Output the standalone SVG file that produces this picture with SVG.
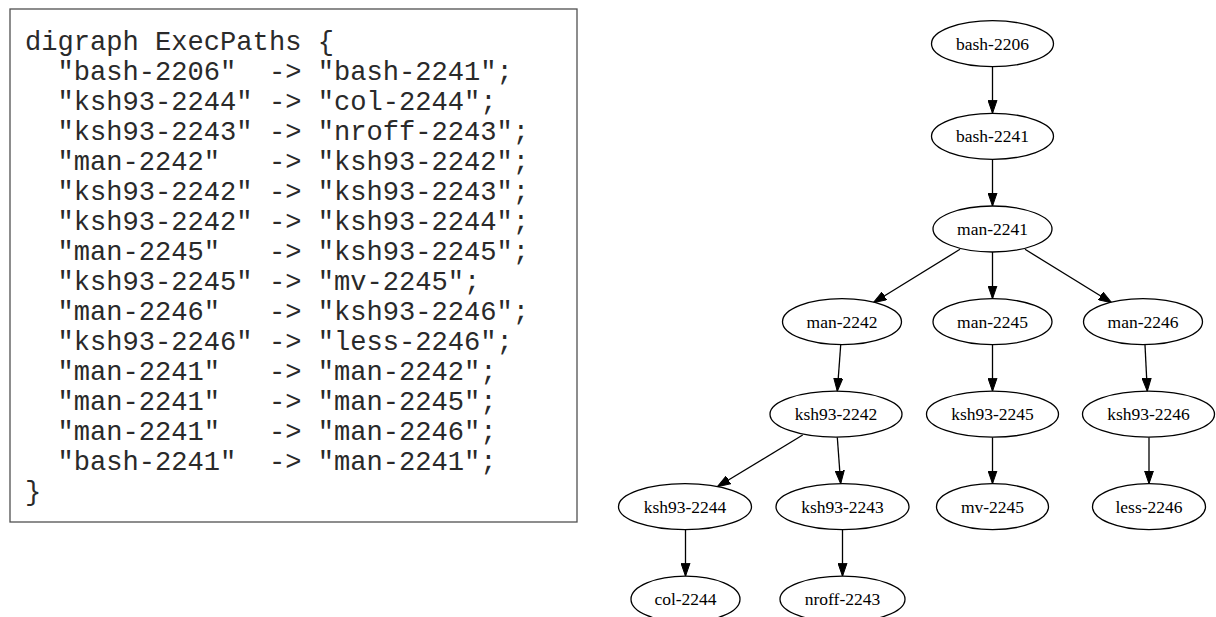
<svg xmlns="http://www.w3.org/2000/svg" width="1216" height="617" viewBox="0 0 1216 617">
  <style>
    .code { font-family: "Liberation Mono", "Courier New", monospace; font-size: 27.1px; fill: #2a2a2a; white-space: pre; }
    .box { fill: #ffffff; stroke: #505050; stroke-width: 1.3; }
    .node ellipse { fill: #ffffff; stroke: #000000; stroke-width: 1.3; }
    .node text { font-family: "Liberation Serif", "Times New Roman", serif; font-size: 17.5px; fill: #000000; text-anchor: middle; }
    .edges line { stroke: #000000; stroke-width: 1.3; marker-end: url(#arrow); }
  </style>
  <defs>
    <marker id="arrow" markerUnits="userSpaceOnUse" markerWidth="14" markerHeight="10" viewBox="0 -5 14 10" refX="13" refY="0" orient="auto">
      <path d="M0,-4.5 L13,0 L0,4.5 z" fill="#000000" stroke="#000000" stroke-width="1"/>
    </marker>
  </defs>
  <rect width="1216" height="617" fill="#ffffff"/>

  <!-- source listing -->
  <g id="source">
    <rect class="box" x="10" y="9" width="567" height="513"/>
    <text class="code" xml:space="preserve">
      <tspan x="25" y="50">digraph ExecPaths {</tspan>
      <tspan x="25" y="80">  "bash-2206"  -&gt; "bash-2241";</tspan>
      <tspan x="25" y="110">  "ksh93-2244" -&gt; "col-2244";</tspan>
      <tspan x="25" y="140">  "ksh93-2243" -&gt; "nroff-2243";</tspan>
      <tspan x="25" y="170">  "man-2242"   -&gt; "ksh93-2242";</tspan>
      <tspan x="25" y="200">  "ksh93-2242" -&gt; "ksh93-2243";</tspan>
      <tspan x="25" y="230">  "ksh93-2242" -&gt; "ksh93-2244";</tspan>
      <tspan x="25" y="260">  "man-2245"   -&gt; "ksh93-2245";</tspan>
      <tspan x="25" y="290">  "ksh93-2245" -&gt; "mv-2245";</tspan>
      <tspan x="25" y="320">  "man-2246"   -&gt; "ksh93-2246";</tspan>
      <tspan x="25" y="350">  "ksh93-2246" -&gt; "less-2246";</tspan>
      <tspan x="25" y="380">  "man-2241"   -&gt; "man-2242";</tspan>
      <tspan x="25" y="410">  "man-2241"   -&gt; "man-2245";</tspan>
      <tspan x="25" y="440">  "man-2241"   -&gt; "man-2246";</tspan>
      <tspan x="25" y="470">  "bash-2241"  -&gt; "man-2241";</tspan>
      <tspan x="25" y="500">}</tspan>
    </text>
  </g>

  <!-- connectors -->
  <g id="edges" class="edges">
    <line x1="992.5" y1="66.7" x2="992.5" y2="113.3"/>
    <line x1="992.5" y1="159.3" x2="992.5" y2="206"/>
    <line x1="960" y1="249.3" x2="873.3" y2="302.7"/>
    <line x1="992.5" y1="252" x2="992.5" y2="298.7"/>
    <line x1="1025" y1="249.3" x2="1111.7" y2="302.7"/>
    <line x1="840.7" y1="345" x2="837.3" y2="391.2"/>
    <line x1="992.5" y1="345" x2="992.5" y2="391.2"/>
    <line x1="1145" y1="345" x2="1147.3" y2="391.2"/>
    <line x1="802.7" y1="435" x2="717.3" y2="486.7"/>
    <line x1="837.3" y1="437.2" x2="840.7" y2="483.7"/>
    <line x1="992.5" y1="437.2" x2="992.5" y2="483.7"/>
    <line x1="1149" y1="437.2" x2="1149" y2="483.7"/>
    <line x1="685.5" y1="529.7" x2="685.5" y2="576.2"/>
    <line x1="842.5" y1="529.7" x2="842.5" y2="576.2"/>
  </g>

  <!-- process nodes -->
  <g id="bash-2206" class="node"><ellipse cx="992.5" cy="43.7" rx="61" ry="23"/><text x="992.5" y="49.7">bash-2206</text></g>
  <g id="bash-2241" class="node"><ellipse cx="992.5" cy="136.3" rx="61" ry="23"/><text x="992.5" y="142.3">bash-2241</text></g>
  <g id="man-2241" class="node"><ellipse cx="992.5" cy="229" rx="59.5" ry="23"/><text x="992.5" y="235">man-2241</text></g>
  <g id="man-2242" class="node"><ellipse cx="842" cy="321.7" rx="59.5" ry="23"/><text x="842" y="327.7">man-2242</text></g>
  <g id="man-2245" class="node"><ellipse cx="992.5" cy="321.7" rx="59.5" ry="23"/><text x="992.5" y="327.7">man-2245</text></g>
  <g id="man-2246" class="node"><ellipse cx="1143" cy="321.7" rx="59.5" ry="23"/><text x="1143" y="327.7">man-2246</text></g>
  <g id="ksh93-2242" class="node"><ellipse cx="836" cy="414.2" rx="66" ry="23"/><text x="836" y="420.2">ksh93-2242</text></g>
  <g id="ksh93-2245" class="node"><ellipse cx="992.5" cy="414.2" rx="66" ry="23"/><text x="992.5" y="420.2">ksh93-2245</text></g>
  <g id="ksh93-2246" class="node"><ellipse cx="1148.5" cy="414.2" rx="66" ry="23"/><text x="1148.5" y="420.2">ksh93-2246</text></g>
  <g id="ksh93-2244" class="node"><ellipse cx="685" cy="506.7" rx="66.5" ry="23"/><text x="685" y="512.7">ksh93-2244</text></g>
  <g id="ksh93-2243" class="node"><ellipse cx="842.5" cy="506.7" rx="66.5" ry="23"/><text x="842.5" y="512.7">ksh93-2243</text></g>
  <g id="mv-2245" class="node"><ellipse cx="992.5" cy="506.7" rx="56" ry="23"/><text x="992.5" y="512.7">mv-2245</text></g>
  <g id="less-2246" class="node"><ellipse cx="1149" cy="506.7" rx="56.5" ry="23"/><text x="1149" y="512.7">less-2246</text></g>
  <g id="col-2244" class="node"><ellipse cx="685.5" cy="599.2" rx="54.5" ry="23"/><text x="685.5" y="605.2">col-2244</text></g>
  <g id="nroff-2243" class="node"><ellipse cx="842.5" cy="599.2" rx="62.5" ry="23"/><text x="842.5" y="605.2">nroff-2243</text></g>
</svg>
